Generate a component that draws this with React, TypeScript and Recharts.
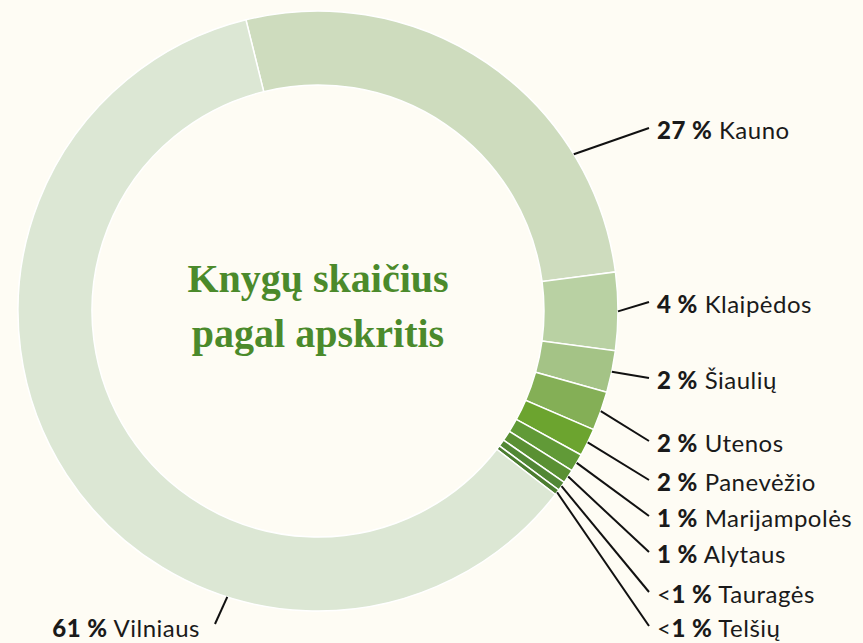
import { PieChart, Pie, Cell } from "recharts";

// apskritys, clockwise from the top
const REGIONS = [
  "Kauno",
  "Klaipėdos",
  "Šiaulių",
  "Utenos",
  "Panevėžio",
  "Marijampolės",
  "Alytaus",
  "Tauragės",
  "Telšių",
  "Vilniaus",
];
const SHARES = [26.8, 4.2, 2.25, 2.1, 1.5, 0.97, 0.74, 0.5, 0.3, 60.7];
const SHARE_LABELS = ["27 %", "4 %", "2 %", "2 %", "2 %", "1 %", "1 %", "1 %", "1 %", "61 %"];
const LESS_THAN = [false, false, false, false, false, false, false, true, true, false];

const COLORS = [
  "#cedcbe",
  "#b9d1a3",
  "#a4c386",
  "#84af56",
  "#6ca42f",
  "#619a37",
  "#5a9033",
  "#528735",
  "#4b7c30",
  "#dce7d4",
];

// label layout (text centre y, optional anchor angle on the ring)
const LABEL_Y = [130, 304, 380, 443, 482, 518, 554, 594, 628, 628];
const ANCHOR_ANGLE: (number | null)[] = [31.5, null, null, null, null, null, null, null, null, -107.6];

const BG = "#fefcf4";
const CX = 318;
const CY = 311;
const RAD = Math.PI / 180;

const data = REGIONS.map((name, i) => ({ name, value: SHARES[i] }));

function renderLabel(props: any) {
  const { cx, cy, midAngle, outerRadius, index } = props;
  const angle = ANCHOR_ANGLE[index] ?? midAngle;
  const sx = cx + outerRadius * Math.cos(-angle * RAD);
  const sy = cy + outerRadius * Math.sin(-angle * RAD);
  const y = LABEL_Y[index];
  const left = index === REGIONS.length - 1;
  const ex = left ? 215 : 649;
  const ey = left ? y - 4 : y - 2;
  const tx = left ? 200 : 657;
  return (
    <g key={`lbl-${index}`}>
      <line x1={sx} y1={sy} x2={ex} y2={ey} stroke="#111" strokeWidth={2} />
      <text
        x={tx}
        y={y}
        dy="0.36em"
        textAnchor={left ? "end" : "start"}
        fontFamily="Lato, sans-serif"
        fontSize={24}
        letterSpacing={0.5}
        fill="#1a1a1a"
      >
        {LESS_THAN[index] ? "<" : ""}
        <tspan fontWeight={900}>{SHARE_LABELS[index]}</tspan>
        <tspan> {REGIONS[index]}</tspan>
      </text>
    </g>
  );
}

export default function App() {
  return (
    <div style={{ position: "fixed", left: 0, top: 0, width: 863, height: 643, background: BG }}>
      <PieChart width={863} height={643} margin={{ top: 0, right: 0, bottom: 0, left: 0 }}>
        <Pie
          data={data}
          dataKey="value"
          nameKey="name"
          cx={CX}
          cy={CY}
          innerRadius={226}
          outerRadius={300}
          startAngle={103.9}
          endAngle={-256.1}
          stroke="#ffffff"
          strokeWidth={1.5}
          label={renderLabel}
          labelLine={false}
          isAnimationActive={false}
        >
          {data.map((d, i) => (
            <Cell key={d.name} fill={COLORS[i]} />
          ))}
        </Pie>
        <text
          x={CX}
          y={278}
          dy="0.35em"
          textAnchor="middle"
          fontFamily="'Liberation Serif', serif"
          fontWeight={700}
          fontSize={40}
          fill="#4b8a2b"
        >
          Knygų skaičius
        </text>
        <text
          x={CX}
          y={333}
          dy="0.35em"
          textAnchor="middle"
          fontFamily="'Liberation Serif', serif"
          fontWeight={700}
          fontSize={40}
          fill="#4b8a2b"
        >
          pagal apskritis
        </text>
      </PieChart>
    </div>
  );
}
